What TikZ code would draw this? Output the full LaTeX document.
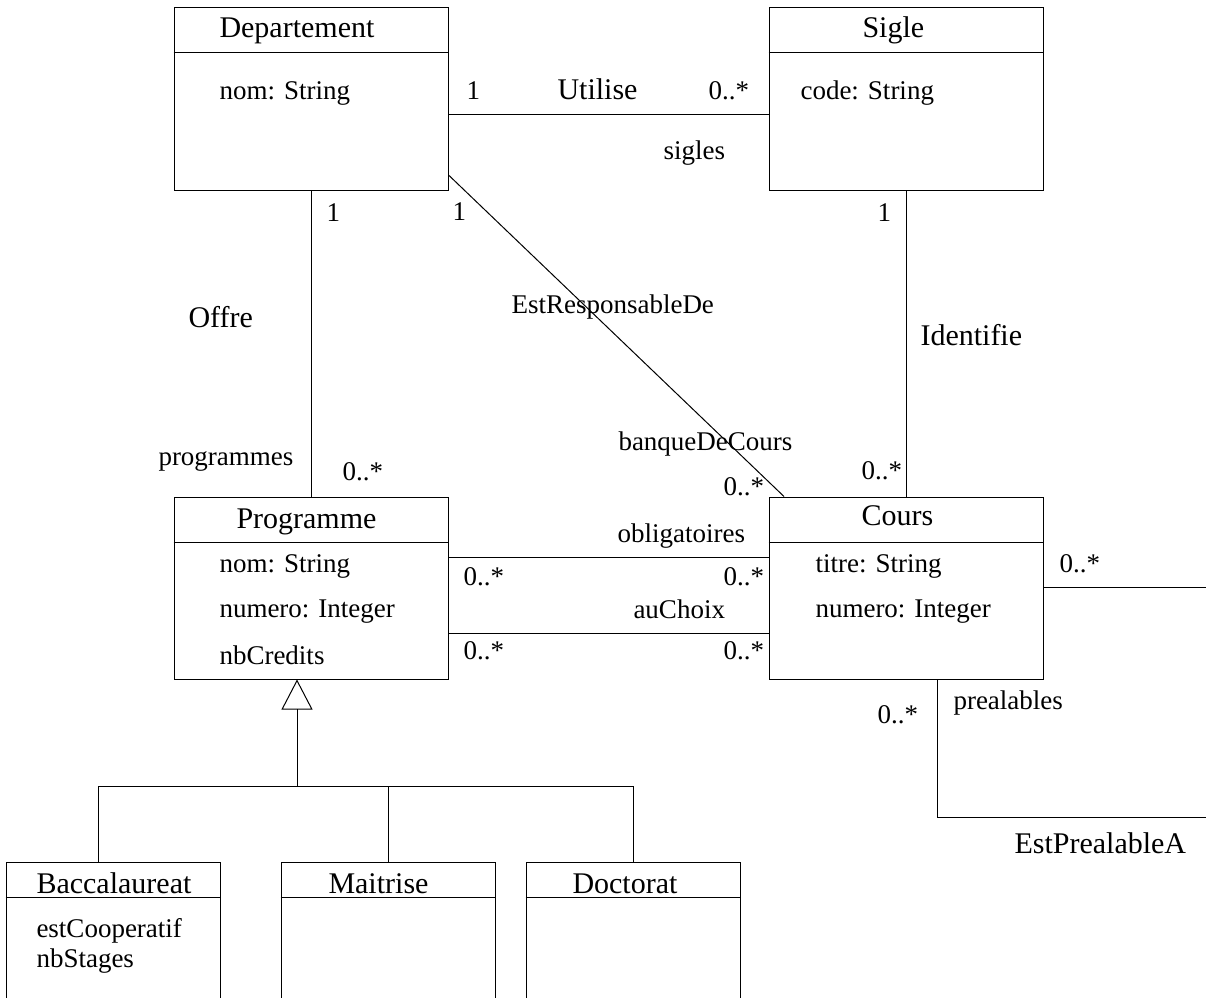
\documentclass[tikz,border=0pt]{standalone}
\usepackage{fontspec}
\setmainfont{Liberation Serif}
\usetikzlibrary{arrows.meta}

\begin{document}
\begin{tikzpicture}[x=1pt,y=-1pt,line width=1pt,
  class box/.style={draw,rectangle,inner sep=0pt,minimum width=274pt,minimum height=183pt},
  sub box/.style={draw,rectangle,inner sep=0pt,minimum width=214pt,minimum height=200pt},
  big/.style={font=\fontsize{30}{36}\selectfont,anchor=base west,inner sep=0pt},
  small/.style={font=\fontsize{27}{32}\selectfont,anchor=base west,inner sep=0pt}]

  \useasboundingbox (0,0) rectangle (1206,997);
  \clip (0,0) rectangle (1206,997);

  % classes
  \node[class box] (dep) at (311,98.5){};
  \node[class box] (sig) at (906,98.5){};
  \node[class box,minimum height=182pt] (prog) at (311,588){};
  \node[class box,minimum height=182pt] (cours) at (906,588){};
  \node[sub box] (bac) at (113,962){};
  \node[sub box] (mait) at (388,962){};
  \node[sub box] (doc) at (633,962){};

  \draw (dep.west |- 0,52) -- (dep.east |- 0,52);
  \draw (sig.west |- 0,52) -- (sig.east |- 0,52);
  \draw (prog.west |- 0,542) -- (prog.east |- 0,542);
  \draw (cours.west |- 0,542) -- (cours.east |- 0,542);
  \draw (bac.west |- 0,897) -- (bac.east |- 0,897);
  \draw (mait.west |- 0,897) -- (mait.east |- 0,897);
  \draw (doc.west |- 0,897) -- (doc.east |- 0,897);

  \node[big] (depname) at (219,37){Departement};
  \node[big] (signame) at (862,37){Sigle};
  \node[big] (progname) at (236,528){Programme};
  \node[big] (coursname) at (861,525){Cours};
  \node[big] (bacname) at (36,893){Baccalaureat};
  \node[big] (maitname) at (328,893){Maitrise};
  \node[big] (docname) at (572,893){Doctorat};

  \node[small] (depnom) at (219,99){nom: String};
  \node[small] (sigcode) at (800,99){code: String};
  \node[small] (prognom) at (219,572){nom: String};
  \node[small] (prognum) at (219,617){numero: Integer};
  \node[small] (progcred) at (219,664){nbCredits};
  \node[small] (courstitre) at (815,572){titre: String};
  \node[small] (coursnum) at (815,617){numero: Integer};
  \node[small] (baccoop) at (36,937){estCooperatif};
  \node[small] (bacstage) at (36,967){nbStages};

  % associations
  \path
    (dep.east |- 0,114) edge (sig.west |- 0,114)
    (dep.south) edge (prog.north)
    (dep.east |- 0,175) edge (cours.north -| 784,0)
    (sig.south) edge (cours.north)
    (prog.east |- 0,557) edge (cours.west |- 0,557)
    (prog.east |- 0,633) edge (cours.west |- 0,633);

  \coordinate (loopa) at (1206,587);
  \coordinate (loopb) at (1206,817);
  \draw (cours.east |- loopa) -- (loopa);
  \draw (cours.south -| 937,0) |- (loopb);

  \node[big] (utilise) at (557,99){Utilise};
  \node[big] (offre) at (188,327){Offre};
  \node[big] (identifie) at (920,345){Identifie};
  \node[big] (prealablea) at (1014,853){EstPrealableA};
  \node[small] (responsable) at (511,313){EstResponsableDe};

  \node[small] (m1) at (466,99){1};
  \node[small] (m2) at (708,99){0..*};
  \node[small] (sigles) at (663,159){sigles};
  \node[small] (m3) at (326,221){1};
  \node[small] (m4) at (452,220){1};
  \node[small] (m5) at (877,221){1};
  \node[small] (programmes) at (158,465){programmes};
  \node[small] (m6) at (342,480){0..*};
  \node[small] (banque) at (618,450){banqueDeCours};
  \node[small] (m7) at (723,495){0..*};
  \node[small] (m8) at (861,479){0..*};
  \node[small] (obligatoires) at (617,542){obligatoires};
  \node[small] (m9) at (463,585){0..*};
  \node[small] (m10) at (723,585){0..*};
  \node[small] (auchoix) at (633,618){auChoix};
  \node[small] (m11) at (463,659){0..*};
  \node[small] (m12) at (723,659){0..*};
  \node[small] (m13) at (1059,572){0..*};
  \node[small] (prealables) at (953,709){prealables};
  \node[small] (m14) at (877,723){0..*};

  % heritage
  \coordinate (gen) at (297,786);
  \draw[-{Triangle[open,length=30pt,width=31pt]}] (gen) -- (prog.south -| gen);
  \draw (bac.north -| 98,0) |- (gen) -| (doc.north);
  \draw (mait.north) -- (mait.north |- gen);
\end{tikzpicture}
\end{document}
